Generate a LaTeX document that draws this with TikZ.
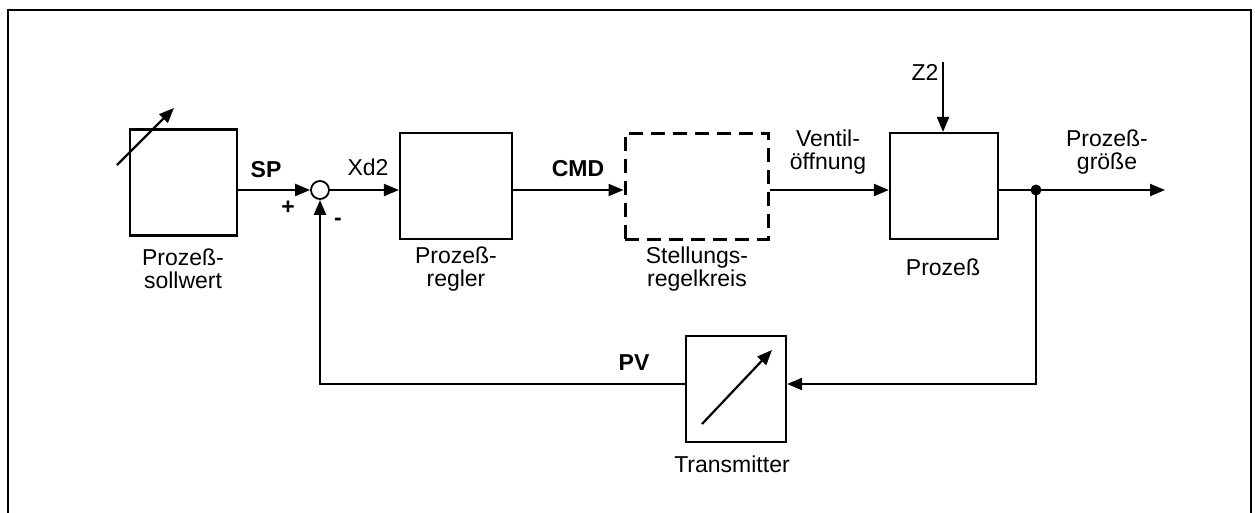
\documentclass[tikz,border=0pt]{standalone}
\usepackage{fontspec}
\setmainfont{Liberation Sans}
\usetikzlibrary{arrows.meta}
\begin{document}
\begin{tikzpicture}[x=1pt,y=-1pt,
  blk/.style={draw,line width=2.2pt,minimum width=#1,minimum height=106pt,inner sep=0pt},
  lbl/.style={font=\fontsize{23}{23}\selectfont,align=center,inner sep=0pt},
  blbl/.style={font=\fontsize{23}{23}\selectfont\bfseries,inner sep=0pt},
  tip/.style={-{Triangle[length=15pt,width=12pt]}},
  sig/.style={line width=2.2pt,tip},
  wire/.style={line width=2.2pt}]
\useasboundingbox (0,0) rectangle (1255,512);
\begin{scope}
\clip (0,0) rectangle (1255,512);
\draw[line width=1.5pt] (8,10) rectangle (1251,530);
\end{scope}
% blocks
\node[blk=107pt] (sw) at (183.5,182.5) {};
\node[blk=112pt] (reg) at (456,186) {};
\node[blk=143pt,dashed,dash pattern=on 14pt off 8pt,line width=3pt] (st) at (696.5,186) {};
\node[blk=108pt] (pr) at (944,186) {};
\node[blk=100pt] (tr) at (736,389) {};
\node[draw,circle,line width=1.8pt,minimum size=18pt,inner sep=0pt] (sum) at (320,190) {};
% block symbols
\coordinate (a1) at (117,165); \coordinate (a2) at (174,108);
\draw[sig] (a1) -- (a2);
\coordinate (b1) at (702,424); \coordinate (b2) at (772,350);
\draw[sig] (b1) -- (b2);
% labels
\node[lbl] (l1) at (183,269) {Prozeß-\\sollwert};
\node[lbl] (l2) at (456,269) {Prozeß-\\regler};
\node[lbl] (l3) at (697,269) {Stellungs-\\regelkreis};
\node[lbl] (l4) at (943,267) {Prozeß};
\node[lbl] (l5) at (732,464) {Transmitter};
\node[lbl] (l6) at (828,152) {Ventil-\\öffnung};
\node[lbl] (l7) at (1107,152) {Prozeß-\\größe};
\node[lbl] (l8) at (925,72) {Z2};
\node[lbl] (l9) at (368,167) {Xd2};
\node[blbl] (sp) at (266,170) {SP};
\node[blbl] (cmd) at (578,169) {CMD};
\node[blbl] (pv) at (634,363) {PV};
\node[blbl] (plus) at (288,208) {+};
\node[blbl] (minus) at (338,222) {-};
% connectors
\coordinate (z2) at (943,62);
\coordinate (out) at (1165,190);
\coordinate (jn) at (1036,190);
\coordinate (jd) at (1036,384);
\coordinate (fl) at (320,384);
\draw[sig] (sw.east |- sum.west) -- (sum.west);
\draw[sig] (sum.east) -- (reg.west |- sum.east);
\draw[sig] (reg.east |- sum.east) -- (st.west |- sum.east);
\draw[sig] (st.east |- sum.east) -- (pr.west |- sum.east);
\draw[sig] (z2) -- (z2 |- pr.north);
\draw[sig] (pr.east |- jn) -- (out);
\draw[sig] (jn) -- (jd) -- (tr.east |- jd);
\draw[sig] (tr.west |- fl) -- (fl) -- (sum.south);
\fill (jn) circle (5.5pt);
\end{tikzpicture}
\end{document}
